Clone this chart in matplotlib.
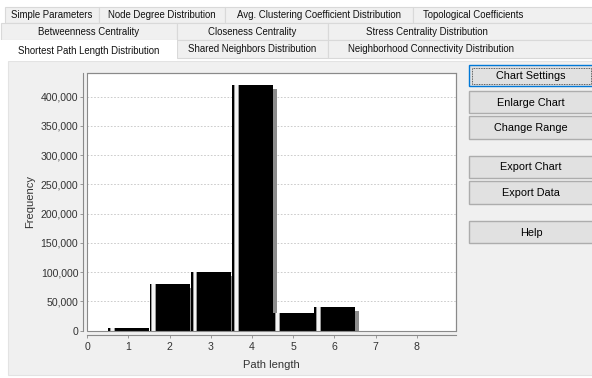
import matplotlib
matplotlib.use('Agg')
import matplotlib.pyplot as plt
from matplotlib.patches import Rectangle
from matplotlib.ticker import FuncFormatter
import matplotlib.transforms as mtransforms

plt.rcParams['font.family'] = ['Liberation Sans', 'DejaVu Sans']

# data
path_len = [1, 2, 3, 4, 5, 6]
freq = [5000, 80000, 100000, 420000, 30000, 40000]
xticks = [0, 1, 2, 3, 4, 5, 6, 7, 8]
yticks = [0, 50000, 100000, 150000, 200000, 250000, 300000, 350000, 400000]

tab_rows = [
    ['Simple Parameters', 'Node Degree Distribution',
     'Avg. Clustering Coefficient Distribution', 'Topological Coefficients'],
    ['Betweenness Centrality', 'Closeness Centrality', 'Stress Centrality Distribution'],
    ['Shortest Path Length Distribution', 'Shared Neighbors Distribution',
     'Neighborhood Connectivity Distribution'],
]
buttons = ['Chart Settings', 'Enlarge Chart', 'Change Range', 'Export Chart', 'Export Data', 'Help']

W, H = 592, 378
fig = plt.figure(figsize=(W / 100, H / 100), dpi=100, facecolor='white')

# window background drawn in pixel units
bg = fig.add_axes([0, 0, 1, 1])
bg.set_xlim(0, W)
bg.set_ylim(H, 0)
bg.axis('off')

bg.add_patch(Rectangle((8, 61), 600, 314, fc='#f0f0f0', ec='#e3e3e3', lw=0.8))

# tabs: (x0, x1) per tab, y band per row
tab_edges = [
    [(5, 99), (99, 225), (225, 413), (413, 620)],
    [(1, 177), (177, 328), (328, 620)],
    [(0, 177), (177, 328), (328, 620)],
]
row_y = [(7, 23), (23, 40), (40, 58)]
for r, (labels, edges) in enumerate(zip(tab_rows, tab_edges)):
    y0, y1 = row_y[r]
    for i, (lab, (x0, x1)) in enumerate(zip(labels, edges)):
        selected = (r == 2 and i == 0)
        if selected:
            bg.add_patch(Rectangle((x0, y0), x1 - x0, y1 - y0 + 3, fc='white', ec='none', zorder=3))
        else:
            bg.add_patch(Rectangle((x0, y0), x1 - x0, y1 - y0, fc='#f0f0f0', ec='#d9d9d9', lw=0.8, zorder=2))
        if r == 0 and i == 3:
            bg.text(423, (y0 + y1) / 2 + 0.5, lab, fontsize=6.9, ha='left', va='center', color='#111111', zorder=4)
        else:
            bg.text((x0 + x1) / 2 if x1 < 600 else 431 if r == 2 else 427,
                    (y0 + y1) / 2 + (1.5 if selected else 0.5), lab, fontsize=6.9,
                    ha='center', va='center', color='#111111', zorder=4)

# buttons on the right
btn_y = [(65, 86), (91, 113), (116, 139), (156, 178), (181, 204), (221, 243)]
for i, (lab, (y0, y1)) in enumerate(zip(buttons, btn_y)):
    ec = '#0078d7' if i == 0 else '#adadad'
    bg.add_patch(Rectangle((469, y0), 124, y1 - y0, fc='#e1e1e1', ec=ec, lw=1.0))
    if i == 0:
        bg.add_patch(Rectangle((471.5, y0 + 2.5), 119, y1 - y0 - 5, fill=False, ec='#333333',
                               lw=0.6, ls=(0, (1, 1))))
    bg.text(531, (y0 + y1) / 2 + 0.5, lab, fontsize=7.8, ha='center', va='center', color='#000000')

# chart
x0p, x1p, y0p, y1p = 87.3, 456, 72.7, 330.7
ax = fig.add_axes([x0p / W, 1 - y1p / H, (x1p - x0p) / W, (y1p - y0p) / H])
ax.set_facecolor('white')
ax.set_xlim(0, 8.95)
ax.set_ylim(0, 441000)

ax.set_yticks(yticks)
ax.set_xticks(xticks)
ax.yaxis.set_major_formatter(FuncFormatter(lambda v, p: f'{int(v):,}'))
ax.grid(axis='y', color='#c4c4c4', lw=0.6, ls=(0, (2, 2)), zorder=0)
ax.set_axisbelow(True)

# shadow offset 4 px right and down
shadow = mtransforms.offset_copy(ax.transData, fig=fig, x=4, y=-4, units='dots')
lefts = [p - 0.49 for p in path_len]
ax.bar(lefts, freq, width=0.99, align='edge', color='#8c8c8c', transform=shadow, zorder=2)
ax.bar(lefts, freq, width=0.99, align='edge', color='black', zorder=3)
# light highlight stripe near each bar's left edge
ax.bar([l + 0.045 for l in lefts], freq, width=0.12, align='edge', color='#9a9a9a', zorder=4)
ax.bar([l + 0.07 for l in lefts], freq, width=0.07, align='edge', color='#f4f4f4', zorder=5)

for s in ['top', 'right']:
    ax.spines[s].set_color('#8a8a8a')
    ax.spines[s].set_linewidth(0.8)
for s in ['left', 'bottom']:
    ax.spines[s].set_position(('outward', 3))
    ax.spines[s].set_color('#8a8a8a')
    ax.spines[s].set_linewidth(0.8)
ax.add_patch(Rectangle((0, 0), 1, 1, transform=ax.transAxes, fill=False, ec='#8a8a8a', lw=0.8,
                       zorder=6, clip_on=False))

ax.tick_params(axis='both', length=2, width=0.6, color='#8a8a8a', labelsize=7.6, labelcolor='#333333')
ax.tick_params(axis='y', pad=1.5)
ax.tick_params(axis='x', pad=3)

ax.set_ylabel('Frequency', fontsize=8, color='#333333', labelpad=4)
ax.set_xlabel('Path length', fontsize=8, color='#333333', labelpad=6)

fig.savefig('out.png', dpi=100, facecolor='white')
